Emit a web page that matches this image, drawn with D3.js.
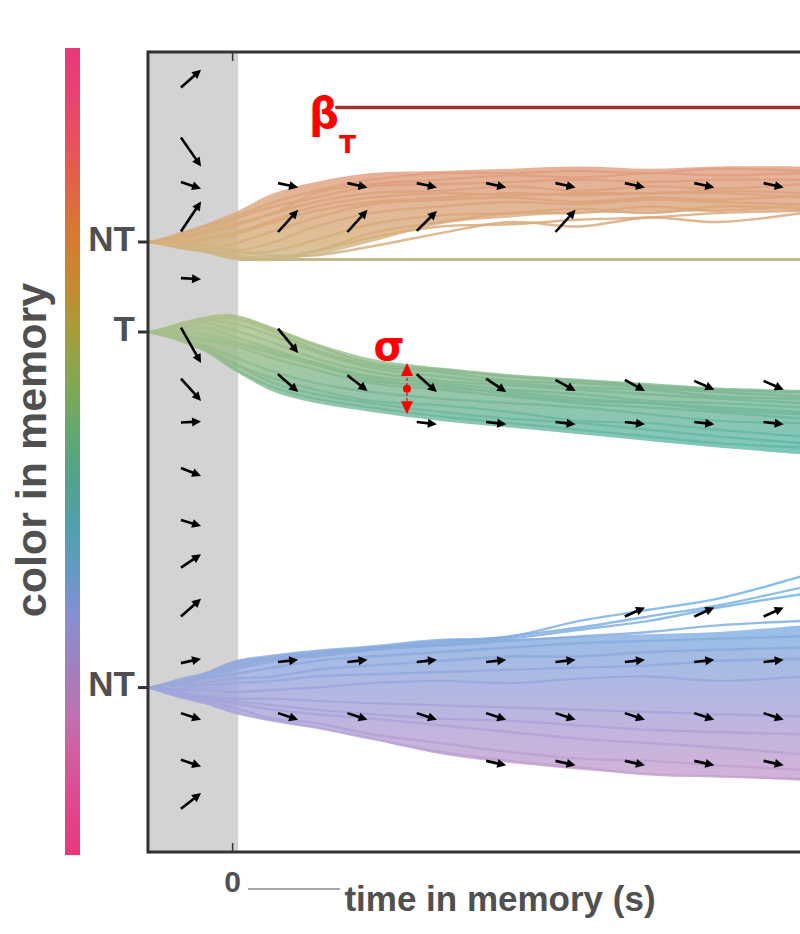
<!DOCTYPE html>
<html><head><meta charset="utf-8">
<script src="https://cdn.jsdelivr.net/npm/d3@7"></script>
<style>html,body{margin:0;padding:0;background:#fff;} svg{display:block;}</style>
</head><body>
<svg id="chart" width="800" height="934"></svg>
<script>
// ---------------- DATA ----------------
const TIME = [-0.6, -0.4, -0.2, 0, 0.3, 0.6, 1.0, 1.5, 2.0, 2.5, 3.0, 3.5, 4.1];
const STIM_LABELS = ["NT", "T", "NT"];
const STIM_VALUES = [94.5, 54, -106];       // colour in memory (deg)
const X_TICKS = [0];
const X_TICK_LABELS = ["0"];
const X_LABEL = "time in memory (s)";
const Y_LABEL = "color in memory";
const STIM_PERIOD = [-0.61, 0.04];

// trace deviations (deg) from their stimulus value, one row per trial
const NT1_TRACES = [
  [0,2,5,10,16,20,25,26,27,28,27,28,28],
  [0,1,4,7,13,18,22,23,25,23,25,24,26],
  [0,-1,2,4,10,16,20,22,21,22,22,23,22],
  [0,-2,-3,-1,5,11,17,19,20,18,20,19,21],
  [0,1,-1,-4,0,7,13,16,18,17,19,18,17],
  [0,-2,-4,-5,-4,1,8,12,13,15,13,16,15],
  [0,-1,-4,-6,-7,-4,2,7,8,10,11,13,14],
  [0,3,7,11,18,23,28,31,31,32,31,33,32],
  [0,0,-2,-4,-6,-6,-2,4,9,7,11,9,13],
  [0,2,4,8,13,22,26,28,30,29,31,30,31],
  [0,-1,1,3,9,14,18,20,22,21,22,22,20],
  [0,-2,-4,-7,-8,-4,4,9,13,13,16,14,17]
];
const NT1_UPPER = [0,4,8,13,22,27,31,32,33,34,33,34,34];
const NT1_LOWER = [0,-3,-5,-8,-8,-6,0,8,11,13,13,14,14];

const T_TRACES = [
  [0,3,6,7,1,-6,-14,-17,-20,-22,-24,-26,-27],
  [0,1,5,4,-2,-9,-16,-20,-23,-25,-26,-29,-30],
  [0,-1,2,-2,-8,-14,-20,-23,-26,-28,-31,-32,-34],
  [0,-2,-4,-6,-12,-17,-23,-26,-29,-32,-34,-36,-39],
  [0,-3,-6,-11,-18,-23,-27,-30,-32,-34,-37,-40,-41],
  [0,-2,-8,-14,-23,-28,-32,-36,-39,-41,-44,-47,-50],
  [0,1,5,6,0,-8,-15,-18,-22,-23,-25,-27,-29],
  [0,-1,-3,-5,-10,-15,-21,-25,-27,-30,-32,-34,-36],
  [0,-3,-7,-14,-21,-26,-31,-33,-36,-40,-41,-44,-47],
  [0,0,-1,-4,-9,-14,-22,-24,-28,-31,-32,-35,-37],
  [0,2,4,1,-5,-12,-18,-22,-24,-26,-28,-30,-32],
  [0,-3,-7,-16,-25,-30,-34,-38,-41,-44,-47,-50,-52]
];
const T_UPPER = [0,4,7,8,2,-5,-12,-16,-19,-21,-23,-25,-26];
const T_LOWER = [0,-4,-9,-17,-27,-32,-36,-40,-43,-46,-49,-52,-55];

const NT2_TRACES = [
  [0,3,6,11,14,16,18,21,23,30,35,40,50],
  [0,2,5,9,13,14,17,20,23,27,32,37,45],
  [0,2,6,10,13,15,17,19,22,26,30,36,42],
  [0,2,5,8,12,15,18,19,21,23,25,28,30],
  [0,1,4,6,9,12,14,16,18,20,21,22,23],
  [0,-1,2,4,5,8,10,12,14,14,16,17,18],
  [0,1,1,2,3,5,6,7,8,9,10,12,13],
  [0,-1,-1,-2,-1,0,2,3,2,4,5,3,5],
  [0,-2,-4,-5,-5,-6,-7,-8,-9,-10,-11,-12,-13],
  [0,-3,-5,-7,-10,-12,-14,-17,-20,-23,-25,-27,-30],
  [0,-3,-6,-9,-14,-16,-21,-25,-29,-32,-33,-35,-37],
  [0,-4,-7,-11,-15,-18,-23,-29,-33,-36,-39,-40,-41],
  [0,-2,-5,-6,-8,-10,-12,-14,-15,-17,-19,-20,-21]
];
const NT2_UPPER = [0,4,7,12,15,17,19,22,22,23,24,25,28];
const NT2_LOWER = [0,-4,-7,-11,-15,-18,-23,-30,-34,-37,-39,-40,-42];

// drift field arrows inside the stimulus period: [value, drift over arrow]
const BOX_ARROW_T = -0.3;
const BOX_ARROWS = [
  [168,8],[135,-13],[120,-3],[106,13.5],[78,-0.5],[48,-16],[28,-10],[13.5,0.5],
  [-9,-3.6],[-32,-2.7],[-49,6],[-70,8],[-94,2],[-119,-3],[-140,-3],[-157,7]
];
// drift field arrows during memory: [time, value, drift]
const FIELD_ARROWS = [
  [0.4,120,-2],[0.9,120,-2],[1.4,120,-2],[1.9,120,-2],[2.4,120,-2],[2.9,120,-2],[3.4,120,-2],[3.9,120,-2],
  [0.4,104,10],[0.9,104,10],[1.4,104,9],[2.4,104,10],
  [0.4,50,-11],
  [0.4,31,-8],[0.9,31,-7],[1.4,31,-8],[1.9,30,-6],[2.4,30,-5],[2.9,30,-5],[3.4,30,-4],[3.9,30,-4],
  [1.4,13,-1],[1.9,13,-1],[2.4,13,-1],[2.9,13,-1],[3.4,13,-1],[3.9,13,-1],
  [0.4,-94,1],[0.9,-94,1],[1.4,-94,1],[1.9,-94,1],[2.4,-94,1],[2.9,-94,1],[3.4,-94,1],[3.9,-94,1],
  [2.9,-72,4],[3.4,-72,4],[3.9,-72,4],
  [0.4,-119,-3],[0.9,-119,-3],[1.4,-119,-3],[1.9,-119,-3],[2.4,-119,-3],[2.9,-119,-3],[3.4,-119,-3],[3.9,-119,-3],
  [1.9,-140,-2],[2.4,-140,-2],[2.9,-140,-2],[3.4,-140,-2],[3.9,-140,-2]
];
const BETA_LEVEL = 155, BETA_FROM = 0.74;
const REF_LEVEL = 86.6, REF_FROM = 0.04;
const SIGMA_T = 1.257, SIGMA_RANGE = [17, 40];
const COLORBAR_RANGE = [-181.4, 181.8];

// ---------------- STYLE ----------------
const COLORBAR_STOPS = [
  [0,"#e8387a"],[0.064,"#e84470"],[0.126,"#e85458"],[0.176,"#e06644"],[0.226,"#d87832"],
  [0.287,"#c88830"],[0.349,"#a89c3a"],[0.415,"#82a852"],[0.477,"#62a870"],[0.539,"#52a290"],
  [0.597,"#50a0b0"],[0.656,"#6898c8"],[0.705,"#8890d0"],[0.767,"#a080c0"],[0.829,"#c070b0"],
  [0.870,"#d060a0"],[0.932,"#e04890"],[1,"#e8387c"]
];
const TRACE_STOPS = [ // [value, colour]
  [136,"#e29c80"],[120,"#dea07e"],[107,"#daa87c"],[94.5,"#d6b07c"],[85.5,"#c8b88a"],
  [68,"#b4bf88"],[54,"#a6c08a"],[41,"#92bb8c"],[28,"#7eb894"],[14,"#6cb8a0"],
  [-1,"#5eb8aa"],[-22,"#58b8b8"],[-53,"#6cb6e8"],[-71,"#78b2e4"],[-87,"#88acde"],
  [-107,"#9ea6dc"],[-125,"#b2a2d6"],[-143,"#c4a0d0"],[-157,"#cca0cc"]
];
const TEXT = "#505050", AXIS = "#333333", RED = "#ff0000";
const FONT = "Liberation Sans, Arial, sans-serif";

// ---------------- CHART ----------------
const svg = d3.select("#chart");
const x = d3.scaleLinear().domain([-0.61, 4.09]).range([148, 800]);
const y = d3.scaleLinear().domain([-180, 180]).range([852, 52]);

const defs = svg.append("defs");
const cb = defs.append("linearGradient").attr("id","cbGrad").attr("x1",0).attr("x2",0).attr("y1",0).attr("y2",1);
COLORBAR_STOPS.forEach(s => cb.append("stop").attr("offset", s[0]).attr("stop-color", s[1]));
const y1g = y(180), y2g = y(-180);
const tg = defs.append("linearGradient").attr("id","trGrad").attr("gradientUnits","userSpaceOnUse")
  .attr("x1",0).attr("x2",0).attr("y1",y1g).attr("y2",y2g);
TRACE_STOPS.forEach(s => tg.append("stop").attr("offset", (y(s[0]) - y1g) / (y2g - y1g)).attr("stop-color", s[1]));

// colour bar
svg.append("rect").attr("x",65).attr("width",15)
  .attr("y", y(COLORBAR_RANGE[1])).attr("height", y(COLORBAR_RANGE[0]) - y(COLORBAR_RANGE[1]))
  .attr("fill","url(#cbGrad)");

// stimulus period box
svg.append("rect").attr("x", x(STIM_PERIOD[0])).attr("width", x(STIM_PERIOD[1]) - x(STIM_PERIOD[0]))
  .attr("y", y(180)).attr("height", y(-180) - y(180)).attr("fill", "#d3d3d3");

// reference lines
svg.append("line").attr("x1", x(REF_FROM)).attr("x2", x(4.09)).attr("y1", y(REF_LEVEL)).attr("y2", y(REF_LEVEL))
  .attr("stroke", "#c8b88e").attr("stroke-width", 3);
svg.append("line").attr("x1", x(BETA_FROM)).attr("x2", x(4.09)).attr("y1", y(BETA_LEVEL)).attr("y2", y(BETA_LEVEL))
  .attr("stroke", "#a33232").attr("stroke-width", 3.5);

// trace bundles
const curve = d3.curveCatmullRom.alpha(0.5);
const bundles = [
  {v: STIM_VALUES[0], tr: NT1_TRACES, up: NT1_UPPER, lo: NT1_LOWER},
  {v: STIM_VALUES[1], tr: T_TRACES, up: T_UPPER, lo: T_LOWER},
  {v: STIM_VALUES[2], tr: NT2_TRACES, up: NT2_UPPER, lo: NT2_LOWER}
];
const gB = svg.append("g");
bundles.forEach(b => {
  const area = d3.area().curve(curve).x((d, i) => x(TIME[i]))
    .y1(d => y(b.v + d)).y0((d, i) => y(b.v + b.lo[i]));
  gB.append("path").attr("d", area(b.up)).attr("fill", "url(#trGrad)").attr("fill-opacity", 0.8);
  const line = d3.line().curve(curve).x((d, i) => x(TIME[i])).y(d => y(b.v + d));
  b.tr.forEach(tr => gB.append("path").attr("d", line(tr)).attr("fill", "none")
    .attr("stroke", "url(#trGrad)").attr("stroke-width", 2.4).attr("stroke-opacity", 0.85));
});

// arrows
const ARROW_DT = 0.145;
const gA = svg.append("g");
function arrow(t, v, dv) {
  const x0 = x(t - ARROW_DT / 2), x1 = x(t + ARROW_DT / 2);
  const y0 = y(v - dv / 2), y1 = y(v + dv / 2);
  const a = Math.atan2(y1 - y0, x1 - x0), L = 9, W = 4.5;
  const bx = x1 - L * Math.cos(a), by = y1 - L * Math.sin(a);
  gA.append("line").attr("x1", x0).attr("y1", y0).attr("x2", bx + Math.cos(a)).attr("y2", by + Math.sin(a))
    .attr("stroke", "#000").attr("stroke-width", 2.6);
  gA.append("path").attr("fill", "#000")
    .attr("d", `M${x1},${y1}L${bx - W * Math.sin(a)},${by + W * Math.cos(a)}L${bx + W * Math.sin(a)},${by - W * Math.cos(a)}Z`);
}
BOX_ARROWS.forEach(d => arrow(BOX_ARROW_T, d[0], d[1]));
FIELD_ARROWS.forEach(d => arrow(d[0], d[1], d[2]));

// frame
const gF = svg.append("g").attr("stroke", AXIS).attr("stroke-width", 3).attr("fill", "none");
gF.append("line").attr("x1", x(-0.61)).attr("x2", x(4.09)).attr("y1", y(180)).attr("y2", y(180));
gF.append("line").attr("x1", x(-0.61)).attr("x2", x(4.09)).attr("y1", y(-180)).attr("y2", y(-180));
gF.append("line").attr("x1", x(-0.61)).attr("x2", x(-0.61)).attr("y1", y(180) - 1.5).attr("y2", y(-180) + 1.5);
// x ticks (inward, top and bottom)
X_TICKS.forEach((t, i) => {
  svg.append("line").attr("x1", x(t)).attr("x2", x(t)).attr("y1", y(-180)).attr("y2", y(-180) - 9)
    .attr("stroke", AXIS).attr("stroke-width", 1.5);
  svg.append("line").attr("x1", x(t)).attr("x2", x(t)).attr("y1", y(180)).attr("y2", y(180) + 9)
    .attr("stroke", AXIS).attr("stroke-width", 1.5);
  svg.append("text").attr("x", x(t)).attr("y", 892).attr("text-anchor", "middle")
    .attr("font-family", FONT).attr("font-size", 30).attr("font-weight", "bold")
    .attr("fill", TEXT).text(X_TICK_LABELS[i]);
});
// y ticks
STIM_VALUES.forEach((v, i) => {
  svg.append("line").attr("x1", x(-0.61) - 10).attr("x2", x(-0.61)).attr("y1", y(v)).attr("y2", y(v))
    .attr("stroke", AXIS).attr("stroke-width", 3);
  svg.append("text").attr("x", 135).attr("y", y(v) - 4).attr("text-anchor", "end").attr("dominant-baseline", "central")
    .attr("font-family", FONT).attr("font-size", 35).attr("font-weight", "bold")
    .attr("fill", TEXT).text(STIM_LABELS[i]);
});

// axis labels
svg.append("line").attr("x1", 248).attr("x2", 340).attr("y1", 889).attr("y2", 889)
  .attr("stroke", TEXT).attr("stroke-width", 1.2);
svg.append("text").attr("x", 500).attr("y", 911).attr("text-anchor", "middle")
  .attr("font-family", FONT).attr("font-size", 35).attr("font-weight", "bold")
  .attr("fill", TEXT).text(X_LABEL);
svg.append("text").attr("transform", "translate(46,450) rotate(-90)").attr("text-anchor", "middle")
  .attr("font-family", FONT).attr("font-size", 43).attr("font-weight", "bold")
  .attr("fill", TEXT).text(Y_LABEL);

// annotations
svg.append("text").attr("x", 309).attr("y", 128)
  .attr("font-family", "DejaVu Sans, sans-serif").attr("font-weight", "bold").attr("fill", RED).attr("font-size", 42)
  .text("β");
svg.append("text").attr("x", 339).attr("y", 153)
  .attr("font-family", "DejaVu Sans, sans-serif").attr("font-weight", "bold").attr("fill", RED).attr("font-size", 25)
  .text("T");

svg.append("text").attr("x", 389).attr("y", 360).attr("text-anchor", "middle")
  .attr("font-family", "DejaVu Sans, sans-serif").attr("font-weight", "bold").attr("font-size", 40)
  .attr("fill", RED).text("σ");
const sx = x(SIGMA_T), sTop = y(SIGMA_RANGE[1]), sBot = y(SIGMA_RANGE[0]);
svg.append("line").attr("x1", sx).attr("x2", sx).attr("y1", sTop + 10).attr("y2", sBot - 10)
  .attr("stroke", "#c83a3a").attr("stroke-width", 1.6).attr("stroke-dasharray", "3,2");
svg.append("path").attr("fill", RED).attr("d", `M${sx},${sTop}L${sx - 6},${sTop + 13}L${sx + 6},${sTop + 13}Z`);
svg.append("path").attr("fill", RED).attr("d", `M${sx},${sBot}L${sx - 6},${sBot - 13}L${sx + 6},${sBot - 13}Z`);
svg.append("circle").attr("cx", sx).attr("cy", y((SIGMA_RANGE[0] + SIGMA_RANGE[1]) / 2)).attr("r", 4).attr("fill", RED);
</script>
</body></html>
